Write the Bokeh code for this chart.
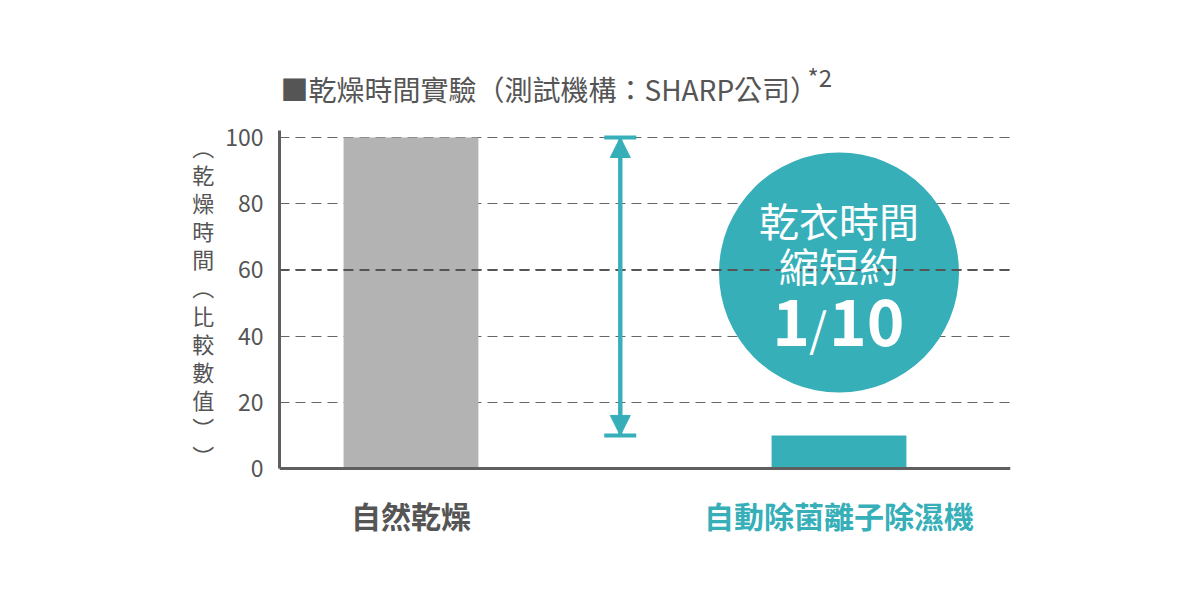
from bokeh.plotting import figure
from bokeh.models import (Range1d, FixedTicker, Label, Arrow, NormalHead, TeeHead, Span)
from bokeh.embed import file_html
from bokeh.resources import INLINE

# ---- data ----
categories = ["自然乾燥", "自動除菌離子除濕機"]
values = [100, 10]
y_ticks = [0, 20, 40, 60, 80, 100]
title_text = "■乾燥時間實驗（測試機構：SHARP公司）"
title_note = "*2"
y_label_chars = ["︵", "乾", "燥", "時", "間", "︵", "比", "較", "數", "值", "︶", "︶"]
badge_lines = ["乾衣時間", "縮短約"]
badge_ratio = ["1", "/", "10"]

# ---- style ----
FONT = "Noto Sans CJK TC"
TEAL = "#36AFB9"
GRAY_BAR = "#B3B3B3"
TEXT = "#555555"
AXIS = "#5f5f5f"

xpos = [1, 2]
x0, x1 = 0.6928, 2.4007
y0, y1 = -27.79, 129.3
axis_top = 102.1

p = figure(width=1184, height=594, output_backend="svg", toolbar_location=None,
           x_range=Range1d(x0, x1), y_range=Range1d(y0, y1),
           min_border_left=279, min_border_right=174, min_border_top=40, min_border_bottom=34)
p.outline_line_color = None
p.background_fill_color = "white"
p.border_fill_color = "white"

# grid
p.xgrid.grid_line_color = None
p.ygrid.ticker = FixedTicker(ticks=y_ticks)
p.ygrid.grid_line_color = "#666666"
p.ygrid.grid_line_dash = "10 6"
p.ygrid.grid_line_width = 1
p.add_layout(Span(location=y_ticks[3], dimension="width", line_color="#555555",
                  line_width=2, line_dash="10 6"))

# bars
p.vbar(x=xpos, top=values, width=0.315, fill_color=[GRAY_BAR, TEAL], line_color=None)

# y axis
ya = p.yaxis[0]
ya.ticker = FixedTicker(ticks=y_ticks)
ya.bounds = (0, axis_top)
ya.axis_line_color = AXIS
ya.axis_line_width = 3
ya.major_tick_line_color = None
ya.minor_tick_line_color = None
ya.major_label_text_font = FONT
ya.major_label_text_font_size = "23px"
ya.major_label_text_color = TEXT
ya.major_label_standoff = 10
ya.axis_label = "\n".join(y_label_chars)
ya.axis_label_orientation = "horizontal"
ya.axis_label_text_font = FONT
ya.axis_label_text_font_size = "22px"
ya.axis_label_text_font_style = "normal"
ya.axis_label_text_color = TEXT
ya.axis_label_text_line_height = 0.88
ya.axis_label_standoff = 8

# x axis (line only, drawn at y = 0)
xa = p.xaxis[0]
xa.fixed_location = 0
xa.ticker = FixedTicker(ticks=[])
xa.axis_line_color = AXIS
xa.axis_line_width = 3
xa.major_tick_line_color = None
xa.minor_tick_line_color = None
xa.major_label_text_font_size = "0px"

# category names
for xc, name, col in zip(xpos, categories, [TEXT, TEAL]):
    p.add_layout(Label(x=xc, y=0, y_offset=-46, text=name, text_font=FONT,
                       text_font_size="30px", text_font_style="bold", text_color=col,
                       text_align="center", text_baseline="middle"))

# arrow between the two results
ax = 1.489
p.add_layout(Arrow(x_start=ax, y_start=values[1], x_end=ax, y_end=values[0],
                   start=NormalHead(size=20, fill_color=TEAL, line_color=TEAL),
                   end=NormalHead(size=20, fill_color=TEAL, line_color=TEAL),
                   line_color=TEAL, line_width=4))
p.add_layout(Arrow(x_start=ax, y_start=values[1], x_end=ax, y_end=values[0],
                   start=TeeHead(size=32, line_color=TEAL, line_width=4),
                   end=TeeHead(size=32, line_color=TEAL, line_width=4),
                   line_color=TEAL, line_width=4))

# badge circle
cx, cy = 2.0, 59.2
p.scatter(x=[cx], y=[cy], size=240, marker="circle", fill_color=TEAL, line_color=None)
p.add_layout(Label(x=cx, y=cy, y_offset=53, text=badge_lines[0], text_font=FONT,
                   text_font_size="40px", text_color="white", text_align="center",
                   text_baseline="middle"))
p.add_layout(Label(x=cx, y=cy, y_offset=8, text=badge_lines[1], text_font=FONT,
                   text_font_size="40px", text_color="white", text_align="center",
                   text_baseline="middle"))
p.add_layout(Label(x=cx, y=cy, x_offset=-29, y_offset=-50, text=badge_ratio[0], text_font=FONT,
                   text_font_size="64px", text_font_style="bold", text_color="white",
                   text_align="right", text_baseline="middle"))
p.add_layout(Label(x=cx, y=cy, x_offset=-21, y_offset=-54, text=badge_ratio[1], text_font=FONT,
                   text_font_size="46px", text_font_style="normal", text_color="white",
                   text_align="center", text_baseline="middle"))
p.add_layout(Label(x=cx, y=cy, x_offset=-10, y_offset=-50, text=badge_ratio[2], text_font=FONT,
                   text_font_size="64px", text_font_style="bold", text_color="white",
                   text_align="left", text_baseline="middle"))

# title
p.add_layout(Label(x=x0, y=y_ticks[-1], x_offset=1, y_offset=48, text=title_text,
                   text_font=FONT, text_font_size="28px", text_color=TEXT,
                   text_align="left", text_baseline="middle"))
p.add_layout(Label(x=x0, y=y_ticks[-1], x_offset=528, y_offset=61, text=title_note,
                   text_font=FONT, text_font_size="24px", text_color=TEXT,
                   text_align="left", text_baseline="middle"))

open("out.html", "w").write(file_html(p, INLINE))
